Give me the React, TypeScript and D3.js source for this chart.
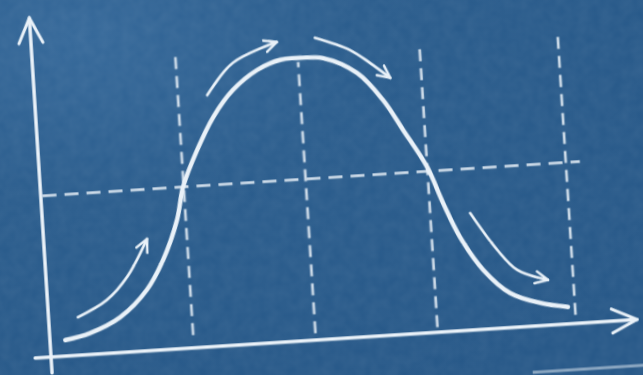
import { useEffect, useRef } from "react";
import * as d3 from "d3";

// bell curve (x, y in board units 0..10)
const curveX = [0.26, 0.69, 1.22, 1.70, 2.01, 2.29, 2.43, 2.71, 3.02, 3.38, 3.81, 4.22, 4.56, 4.95, 5.51, 5.92, 6.23, 6.60, 6.83, 7.08, 7.44, 7.87, 8.37, 8.84];
const curveY = [0.47, 0.63, 1.04, 1.79, 2.64, 3.79, 4.75, 5.81, 6.75, 7.50, 8.04, 8.30, 8.32, 8.27, 7.77, 6.93, 6.01, 4.87, 3.79, 2.76, 1.75, 1.02, 0.67, 0.50];

// dashed guide lines
const gridX = [2.44, 4.52, 6.60, 8.96];
const gridTop = [8.64, 8.20, 8.55, 8.64];
const gridBottom = [0.38, 0.20, 0.15, 0.25];
const levelY = 4.75;
const levelFrom = 0.03;
const levelTo = 9.2;

// small arrows next to the curve
const riseX = [0.50, 1.01, 1.38, 1.76];
const riseY = [1.12, 1.57, 2.21, 3.29];
const climbX = [2.94, 3.41, 4.18];
const climbY = [7.40, 8.30, 8.83];
const dropX = [4.83, 5.41, 5.74, 6.07];
const dropY = [8.88, 8.46, 8.04, 7.56];
const fallX = [7.28, 7.70, 8.02, 8.53];
const fallY = [3.44, 2.31, 1.68, 1.33];

// chalk ledge line below the axis
const ledgeX = [8.17, 10.2];
const ledgeY = -1.36;

const width = 643, height = 375;
const chalk = "#e9f1f8";

export default function App() {
    const svgRef = useRef<SVGSVGElement>(null);

    useEffect(() => {
        const root = d3.select(svgRef.current);
        root.selectAll("*").remove();
        root.attr("width", width).attr("height", height);

        const defs = root.append("defs");
        const grad = defs.append("radialGradient")
            .attr("id", "board")
            .attr("cx", "0.12").attr("cy", "0.1").attr("r", "1.1");
        grad.append("stop").attr("offset", "0").attr("stop-color", "#36699a");
        grad.append("stop").attr("offset", "0.4").attr("stop-color", "#2b5d8d");
        grad.append("stop").attr("offset", "1").attr("stop-color", "#275888");

        const noise = defs.append("filter").attr("id", "grain")
            .attr("x", 0).attr("y", 0).attr("width", "100%").attr("height", "100%");
        noise.append("feTurbulence").attr("type", "fractalNoise")
            .attr("baseFrequency", 0.09).attr("numOctaves", 2).attr("seed", 4);
        noise.append("feColorMatrix").attr("type", "matrix")
            .attr("values", "0 0 0 0 1  0 0 0 0 1  0 0 0 0 1  0 0 0 0.07 -0.01");

        const soft = defs.append("filter").attr("id", "soft");
        soft.append("feGaussianBlur").attr("stdDeviation", 0.55);

        const marker = (id: string, size: number, sw: number) => {
            defs.append("marker")
                .attr("id", id)
                .attr("viewBox", "0 0 12 12")
                .attr("refX", 11).attr("refY", 6)
                .attr("markerWidth", size).attr("markerHeight", size)
                .attr("markerUnits", "userSpaceOnUse")
                .attr("orient", "auto")
                .append("path")
                .attr("d", "M1,1.2 L11,6 L1,10.8")
                .attr("fill", "none")
                .attr("stroke", chalk)
                .attr("stroke-width", sw)
                .attr("stroke-linecap", "round")
                .attr("stroke-linejoin", "round");
        };
        marker("axisHead", 30, 1.2);
        marker("smallHead", 15, 2.0);

        root.append("rect").attr("width", width).attr("height", height).attr("fill", "url(#board)");
        root.append("rect").attr("width", width).attr("height", height).attr("filter", "url(#grain)");

        // the board is drawn slightly tilted
        const g = root.append("g")
            .attr("transform", "matrix(1,-0.064,0.064,1,51,357)")
            .attr("filter", "url(#soft)");

        const x = d3.scaleLinear().domain([0, 10]).range([0, 586]);
        const y = d3.scaleLinear().domain([0, 10]).range([0, -339]);

        // dashed guides
        g.selectAll(".grid")
            .data(gridX)
            .join("line")
            .attr("x1", d => x(d)).attr("x2", d => x(d))
            .attr("y1", (d, i) => y(gridBottom[i]))
            .attr("y2", (d, i) => y(gridTop[i]))
            .attr("stroke", chalk).attr("stroke-width", 2.7)
            .attr("stroke-dasharray", "12,7")
            .attr("opacity", 0.85);

        g.append("line")
            .attr("x1", x(levelFrom)).attr("x2", x(levelTo))
            .attr("y1", y(levelY)).attr("y2", y(levelY))
            .attr("stroke", chalk).attr("stroke-width", 2.9)
            .attr("stroke-dasharray", "14,8")
            .attr("opacity", 0.85);

        // axes
        g.append("line")
            .attr("x1", x(0)).attr("y1", y(-0.47))
            .attr("x2", x(0)).attr("y2", y(10))
            .attr("stroke", chalk).attr("stroke-width", 3.4)
            .attr("stroke-linecap", "round")
            .attr("marker-end", "url(#axisHead)");
        g.append("line")
            .attr("x1", x(-0.27)).attr("y1", y(0))
            .attr("x2", x(10)).attr("y2", y(0))
            .attr("stroke", chalk).attr("stroke-width", 3.6)
            .attr("stroke-linecap", "round")
            .attr("marker-end", "url(#axisHead)");

        // bell curve
        const pts = curveX.map((d, i) => [d, curveY[i]] as [number, number]);
        const line = d3.line<[number, number]>()
            .x(d => x(d[0]))
            .y(d => y(d[1]))
            .curve(d3.curveCatmullRom.alpha(0.5));
        g.append("path")
            .attr("d", line(pts))
            .attr("fill", "none")
            .attr("stroke", chalk)
            .attr("stroke-width", 4.4)
            .attr("stroke-linecap", "round");

        // direction arrows
        const arrows = [[riseX, riseY], [climbX, climbY], [dropX, dropY], [fallX, fallY]];
        arrows.forEach(([ax, ay]) => {
            g.append("path")
                .attr("d", line(ax.map((d, i) => [d, ay[i]] as [number, number])))
                .attr("fill", "none")
                .attr("stroke", chalk)
                .attr("stroke-width", 2.7)
                .attr("stroke-linecap", "round")
                .attr("marker-end", "url(#smallHead)");
        });

        // faint chalk ledge at the bottom right
        g.append("line")
            .attr("x1", x(ledgeX[0])).attr("y1", y(ledgeY))
            .attr("x2", x(ledgeX[1])).attr("y2", y(ledgeY))
            .attr("stroke", chalk).attr("stroke-width", 3)
            .attr("opacity", 0.5);
    }, []);

    return (
        <svg ref={svgRef} style={{ position: "absolute", left: 0, top: 0, display: "block" }}></svg>
    );
}
